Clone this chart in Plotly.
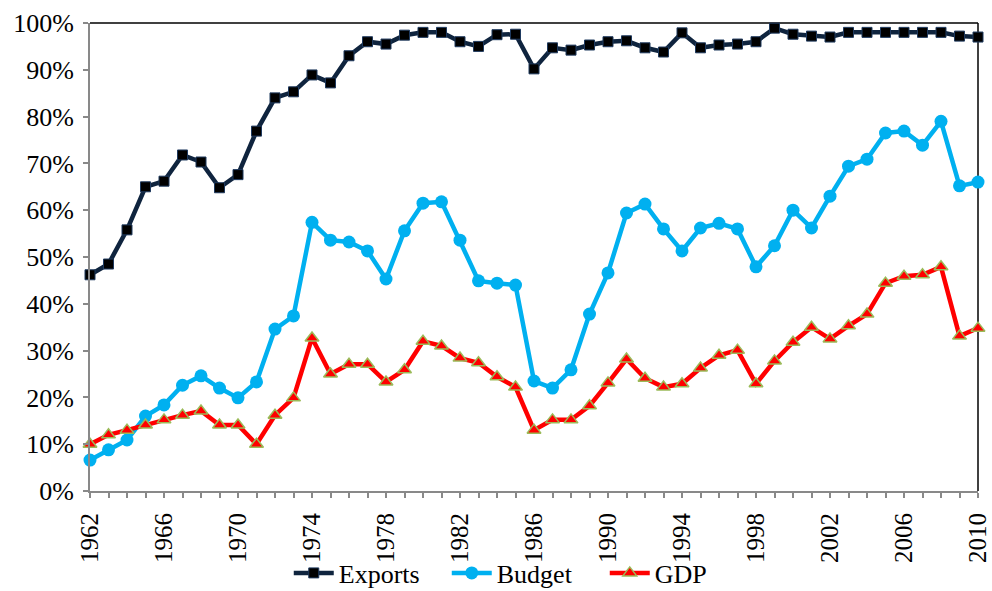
import plotly.graph_objects as go

years = list(range(1962, 2011))

exports = [46.2, 48.5, 55.8, 65.0, 66.2, 71.8, 70.3, 64.8, 67.6, 76.9,
           84.0, 85.3, 88.9, 87.2, 93.0, 96.0, 95.5, 97.4, 98.0, 98.0,
           96.0, 95.0, 97.5, 97.6, 90.2, 94.7, 94.2, 95.3, 96.0, 96.2,
           94.7, 93.8, 97.9, 94.7, 95.3, 95.5, 96.0, 98.9, 97.6, 97.2,
           97.0, 98.0, 98.0, 98.0, 98.0, 98.0, 98.0, 97.2, 97.0]

budget = [6.6, 8.8, 10.9, 16.0, 18.4, 22.6, 24.6, 22.0, 19.9, 23.3,
          34.6, 37.4, 57.4, 53.6, 53.2, 51.3, 45.3, 55.6, 61.5, 61.8,
          53.6, 44.9, 44.4, 44.0, 23.5, 22.0, 25.9, 37.8, 46.6, 59.4,
          61.3, 56.0, 51.3, 56.2, 57.2, 56.0, 47.9, 52.4, 60.0, 56.2,
          63.0, 69.4, 70.9, 76.5, 76.9, 73.9, 79.0, 65.2, 66.0]

gdp = [10.0, 12.0, 13.0, 14.1, 15.2, 16.2, 17.1, 14.1, 14.1, 10.0,
       16.2, 19.9, 32.7, 25.0, 27.1, 27.1, 23.3, 25.9, 32.0, 31.0,
       28.4, 27.4, 24.4, 22.2, 13.0, 15.2, 15.2, 18.2, 23.1, 28.2,
       24.1, 22.2, 22.9, 26.3, 29.0, 30.1, 22.9, 27.8, 31.8, 35.0,
       32.5, 35.3, 37.8, 44.4, 45.9, 46.2, 47.9, 33.1, 34.8]

y_ticks = list(range(0, 101, 10))
y_ticktext = [f"{v}%" for v in y_ticks]
x_label_years = list(range(1962, 2011, 4))

FONT = "Liberation Serif"

fig = go.Figure()
fig.add_trace(go.Scatter(
    x=years, y=exports, name="Exports", mode="lines+markers",
    line=dict(color="#0F243E", width=4.5),
    marker=dict(symbol="square", size=10, color="#000000",
                line=dict(color="#1F3A5F", width=1)),
    cliponaxis=False))
fig.add_trace(go.Scatter(
    x=years, y=budget, name="Budget", mode="lines+markers",
    line=dict(color="#00B0F0", width=4.5),
    marker=dict(symbol="circle", size=13, color="#00B0F0"),
    cliponaxis=False))
fig.add_trace(go.Scatter(
    x=years, y=gdp, name="GDP", mode="lines+markers",
    line=dict(color="#FF0000", width=4.5),
    marker=dict(symbol="triangle-up", size=12, color="#FF0000",
                line=dict(color="#9BBB59", width=1.5)),
    cliponaxis=False))

fig.update_layout(
    width=992, height=591,
    margin=dict(l=90, r=14, t=23, b=100, autoexpand=False),
    paper_bgcolor="white", plot_bgcolor="white",
    font=dict(family=FONT, size=24, color="black"),
    showlegend=True,
    legend=dict(orientation="h", x=0.530, xanchor="center", xref="container",
                y=1 - 573 / 591, yanchor="middle", yref="container",
                font=dict(family=FONT, size=26), itemwidth=40,
                entrywidth=103, entrywidthmode="pixels",
                bgcolor="rgba(0,0,0,0)", tracegroupgap=0),
    xaxis=dict(range=[1962, 2010], showgrid=False, zeroline=False,
               automargin=False,
               showline=True, linecolor="#898989", linewidth=2,
               tickmode="array", tickvals=x_label_years,
               ticktext=[str(y) for y in x_label_years],
               ticks="outside", ticklen=5, tickcolor="#898989", tickwidth=1.5,
               tickangle=-90, tickfont=dict(family=FONT, size=25),
               ticklabelstandoff=5,
               minor=dict(tickmode="linear", tick0=1962, dtick=1,
                          ticks="outside", ticklen=5, tickcolor="#898989",
                          tickwidth=1.5, showgrid=False)),
    yaxis=dict(range=[0, 100], showgrid=False, zeroline=False,
               automargin=False,
               showline=True, linecolor="#898989", linewidth=2,
               tickmode="array", tickvals=y_ticks, ticktext=y_ticktext,
               ticks="outside", ticklen=5, tickcolor="#898989", tickwidth=1.5,
               ticklabelstandoff=4,
               tickfont=dict(family=FONT, size=26)),
)

fig.add_shape(type="line", xref="paper", yref="paper", x0=0, x1=1, y0=1, y1=1,
              line=dict(color="black", width=1.5), layer="below")
fig.add_shape(type="line", xref="paper", yref="paper", x0=1, x1=1, y0=0, y1=1,
              line=dict(color="black", width=1.5), layer="below")

fig.write_html("out.html",
               config={"displayModeBar": False},
               post_script="document.body.style.margin='0';document.body.style.overflow='hidden';")
